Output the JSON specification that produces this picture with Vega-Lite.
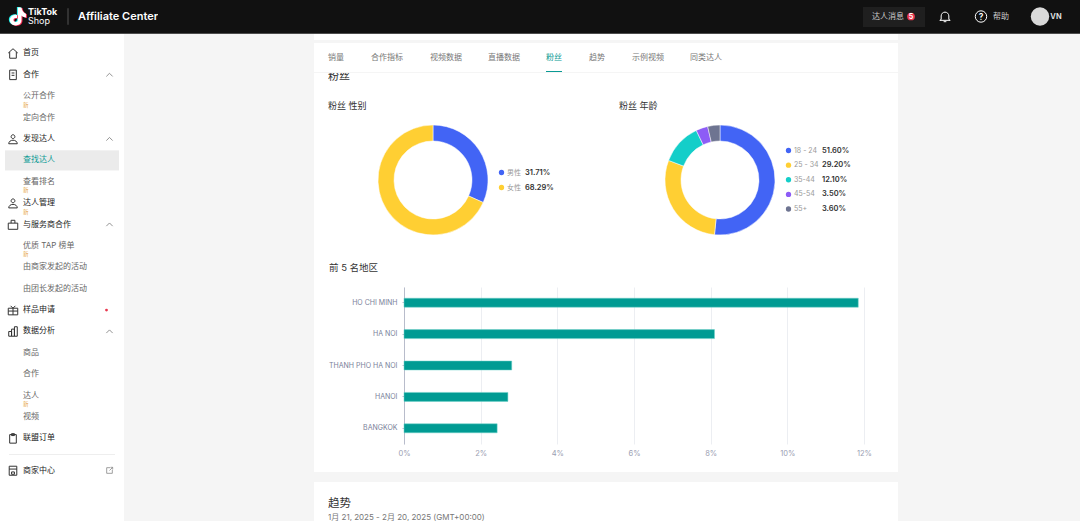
{"$schema":"https://vega.github.io/schema/vega-lite/v6.json","padding":0,"background":"#ffffff","spacing":0,"resolve":{"scale":{"color":"independent","shape":"independent"}},"config":{"view":{"stroke":null},"concat":{"spacing":0},"font":"Inter, 'Noto Sans CJK SC'","text":{"font":"Inter, 'Noto Sans CJK SC'"}},
"datasets":{
"menu":[
{"row":1,"label":"首页","kind":"top","icon":"home"},
{"row":2,"label":"合作","kind":"top","icon":"doc","trail":"chevron"},
{"row":3,"label":"公开合作","kind":"sub","isNew":true},
{"row":4,"label":"定向合作","kind":"sub"},
{"row":5,"label":"发现达人","kind":"top","icon":"person","trail":"chevron"},
{"row":6,"label":"查找达人","kind":"active"},
{"row":7,"label":"查看排名","kind":"sub","isNew":true},
{"row":8,"label":"达人管理","kind":"top","icon":"person","isNew":true},
{"row":9,"label":"与服务商合作","kind":"top","icon":"case","trail":"chevron"},
{"row":10,"label":"优质 TAP 榜单","kind":"sub","isNew":true},
{"row":11,"label":"由商家发起的活动","kind":"sub"},
{"row":12,"label":"由团长发起的活动","kind":"sub"},
{"row":13,"label":"样品申请","kind":"top","icon":"gift","trail":"dot"},
{"row":14,"label":"数据分析","kind":"top","icon":"chart","trail":"chevron"},
{"row":15,"label":"商品","kind":"sub"},
{"row":16,"label":"合作","kind":"sub"},
{"row":17,"label":"达人","kind":"sub","isNew":true},
{"row":18,"label":"视频","kind":"sub"},
{"row":19,"label":"联盟订单","kind":"top","icon":"clip"}
],
"gender":[{"group":"男性","share":0.3171,"rank":1},{"group":"女性","share":0.6829,"rank":2}],
"age":[{"group":"18 - 24","share":0.516,"rank":1},{"group":"25 - 34","share":0.292,"rank":2},{"group":"35-44","share":0.121,"rank":3},{"group":"45-54","share":0.035,"rank":4},{"group":"55+","share":0.036,"rank":5}],
"regions":[{"region":"HO CHI MINH","share":11.85},{"region":"HA NOI","share":8.1},{"region":"THANH PHO HA NOI","share":2.81},{"region":"HANOI","share":2.71},{"region":"BANGKOK","share":2.43}]
},
"vconcat":[
{"bounds":"flush","spacing":0,"hconcat":[
{"width":28,"height":33,"view":{"fill":"#111111"},"data":{"values":[{}]},"layer":[
{"mark":{"type":"point","shape":"M0.1,-1H0.5C0.55,-0.6 0.8,-0.35 1,-0.3V0.1C0.8,0.1 0.6,0 0.5,-0.1V0.4C0.5,0.85 0.15,1 -0.15,1C-0.55,1 -0.8,0.7 -0.8,0.4C-0.8,0 -0.45,-0.25 0,-0.2V0.2C-0.2,0.1 -0.4,0.2 -0.4,0.4C-0.4,0.55 -0.25,0.65 -0.1,0.62C0.05,0.6 0.1,0.5 0.1,0.4Z","filled":true,"size":320,"color":"#25f4ee","opacity":1},"encoding":{"x":{"datum":-1,"type":"quantitative","scale":{"domain":[-17,11]},"axis":null},"y":{"datum":0.5,"type":"quantitative","scale":{"domain":[-16.5,16.5]},"axis":null}}},
{"mark":{"type":"point","shape":"M0.1,-1H0.5C0.55,-0.6 0.8,-0.35 1,-0.3V0.1C0.8,0.1 0.6,0 0.5,-0.1V0.4C0.5,0.85 0.15,1 -0.15,1C-0.55,1 -0.8,0.7 -0.8,0.4C-0.8,0 -0.45,-0.25 0,-0.2V0.2C-0.2,0.1 -0.4,0.2 -0.4,0.4C-0.4,0.55 -0.25,0.65 -0.1,0.62C0.05,0.6 0.1,0.5 0.1,0.4Z","filled":true,"size":320,"color":"#fe2c55","opacity":1},"encoding":{"x":{"datum":1,"type":"quantitative","scale":{"domain":[-17,11]},"axis":null},"y":{"datum":-0.5,"type":"quantitative","scale":{"domain":[-16.5,16.5]},"axis":null}}},
{"mark":{"type":"point","shape":"M0.1,-1H0.5C0.55,-0.6 0.8,-0.35 1,-0.3V0.1C0.8,0.1 0.6,0 0.5,-0.1V0.4C0.5,0.85 0.15,1 -0.15,1C-0.55,1 -0.8,0.7 -0.8,0.4C-0.8,0 -0.45,-0.25 0,-0.2V0.2C-0.2,0.1 -0.4,0.2 -0.4,0.4C-0.4,0.55 -0.25,0.65 -0.1,0.62C0.05,0.6 0.1,0.5 0.1,0.4Z","filled":true,"size":320,"color":"#ffffff","opacity":1},"encoding":{"x":{"datum":0,"type":"quantitative","scale":{"domain":[-17,11]},"axis":null},"y":{"datum":0,"type":"quantitative","scale":{"domain":[-16.5,16.5]},"axis":null}}}
]},
{"width":30,"height":33,"view":{"fill":"#111111"},"data":{"values":[{}]},"encoding":{"x":{"datum":0,"type":"quantitative","scale":{"domain":[0,1]},"axis":null}},"layer":[
{"mark":{"type":"text","text":"TikTok","align":"left","color":"#ffffff","fontSize":9,"fontWeight":700,"dy":-4.5}},
{"mark":{"type":"text","text":"Shop","align":"left","color":"#ffffff","fontSize":9,"dy":4.5}}
]},
{"width":20,"height":33,"view":{"fill":"#111111"},"data":{"values":[{}]},"mark":{"type":"rule","color":"#555555"},"encoding":{"y":{"datum":0,"type":"quantitative","scale":{"domain":[-0.5,1.5]},"axis":null},"y2":{"datum":1}}},
{"width":80,"height":33,"view":{"fill":"#111111"},"data":{"values":[{"label":"Affiliate Center"}]},"mark":{"type":"text","align":"left","color":"#ffffff","fontSize":11,"fontWeight":600},"encoding":{"x":{"datum":0,"type":"quantitative","scale":{"domain":[0,1]},"axis":null},"text":{"field":"label"}}},
{"width":705,"height":33,"view":{"fill":"#111111"},"data":{"values":[{}]},"mark":{"type":"rect","opacity":0}},
{"width":42,"height":33,"view":{"fill":"#111111"},"data":{"values":[{"label":"达人消息"}]},"layer":[
{"mark":{"type":"rect","color":"#1f1f1f"},"encoding":{"y":{"datum":0,"type":"quantitative","scale":{"domain":[-0.3,1.35]},"axis":null},"y2":{"datum":1}}},
{"mark":{"type":"text","color":"#cccccc","fontSize":8,"dx":4},"encoding":{"text":{"field":"label"}}}
]},
{"width":12,"height":33,"view":{"fill":"#111111"},"data":{"values":[{"label":"5"}]},"layer":[
{"mark":{"type":"rect","color":"#1f1f1f"},"encoding":{"y":{"datum":0,"type":"quantitative","scale":{"domain":[-0.3,1.35]},"axis":null},"y2":{"datum":1}}},
{"mark":{"type":"point","shape":"circle","filled":true,"size":60,"color":"#e8384f","opacity":1}},
{"mark":{"type":"text","color":"#ffffff","fontSize":7,"fontWeight":700},"encoding":{"text":{"field":"label"}}}
]},
{"width":8,"height":33,"view":{"fill":"#111111"},"data":{"values":[{}]},"mark":{"type":"rect","color":"#1f1f1f"},"encoding":{"y":{"datum":0,"type":"quantitative","scale":{"domain":[-0.3,1.35]},"axis":null},"y2":{"datum":1}}},
{"width":10,"height":33,"view":{"fill":"#111111"},"data":{"values":[{}]},"mark":{"type":"rect","opacity":0}},
{"width":20,"height":33,"view":{"fill":"#111111"},"data":{"values":[{}]},"mark":{"type":"point","shape":"M-0.7,0.55V-0.1A0.7,0.7 0 0 1 0.7,-0.1V0.55L0.95,0.7H-0.95L-0.7,0.55ZM-0.25,0.95H0.25","filled":false,"size":120,"color":"#ffffff","strokeWidth":1,"opacity":1}},
{"width":16,"height":33,"view":{"fill":"#111111"},"data":{"values":[{}]},"mark":{"type":"rect","opacity":0}},
{"width":20,"height":33,"view":{"fill":"#111111"},"data":{"values":[{"label":"?"}]},"layer":[
{"mark":{"type":"point","shape":"circle","filled":false,"size":130,"color":"#ffffff","strokeWidth":1,"opacity":1}},
{"mark":{"type":"text","color":"#ffffff","fontSize":8.5,"fontWeight":600},"encoding":{"text":{"field":"label"}}}
]},
{"width":20,"height":33,"view":{"fill":"#111111"},"data":{"values":[{"label":"帮助"}]},"mark":{"type":"text","color":"#cccccc","fontSize":8},"encoding":{"text":{"field":"label"}}},
{"width":19,"height":33,"view":{"fill":"#111111"},"data":{"values":[{}]},"mark":{"type":"rect","opacity":0}},
{"width":20,"height":33,"view":{"fill":"#111111"},"data":{"values":[{}]},"mark":{"type":"point","shape":"circle","filled":true,"size":340,"color":"#d9d9d9","opacity":1}},
{"width":12,"height":33,"view":{"fill":"#111111"},"data":{"values":[{"label":"VN"}]},"mark":{"type":"text","color":"#dddddd","fontSize":7.5,"fontWeight":700},"encoding":{"text":{"field":"label"}}},
{"width":18,"height":33,"view":{"fill":"#111111"},"data":{"values":[{}]},"mark":{"type":"rect","opacity":0}}
]},
{"width":1080,"height":1,"view":{"fill":"#4d4d4d"},"data":{"values":[{}]},"mark":{"type":"rect","opacity":0}},
{"spacing":0,"resolve":{"scale":{"color":"independent","shape":"independent"}},"hconcat":[
{"spacing":0,"vconcat":[
{"bounds":"flush","spacing":0,"hconcat":[
{"width":5,"height":420,"data":{"values":[{}]},"mark":{"type":"rect","opacity":0}},
{"width":16,"height":420,"data":{"name":"menu"},"encoding":{"y":{"field":"row","type":"ordinal","axis":null,"scale":{"type":"band","domain":[1,2,3,4,5,6,7,8,9,10,11,12,13,14,15,16,17,18,19],"paddingInner":0.06,"paddingOuter":0.35,"align":0.63}}},"layer":[
{"transform":[{"filter":"datum.kind == 'active'"}],"mark":{"type":"rect","color":"#ebebeb"}},
{"transform":[{"filter":"isValid(datum.icon)"}],"mark":{"type":"point","filled":false,"size":90,"strokeWidth":1,"color":"#333333","opacity":1},"encoding":{"shape":{"field":"icon","legend":null,"scale":{"domain":["home","doc","person","case","gift","chart","clip"],"range":["M-1,-0.1L0,-1L1,-0.1M-0.7,-0.3V1H0.7V-0.3","M-0.7,-1H0.7V1H-0.7ZM-0.3,-0.4H0.3M-0.3,0.1H0.3","M-0.4,-0.5A0.4,0.4 0 1 1 0.4,-0.5A0.4,0.4 0 1 1 -0.4,-0.5M-0.9,1C-0.9,0 0.9,0 0.9,1Z","M-1,-0.3H1V1H-1ZM-0.4,-0.3V-0.9H0.4V-0.3","M-1,-0.4H1V1H-1ZM0,-0.4V1M-1,0.2H1M-0.5,-0.9L0,-0.4L0.5,-0.9","M-0.9,1V0H-0.3V1ZM-0.3,1V-0.5H0.3V1ZM0.3,1V-1H0.9V1Z","M-0.7,-0.8H0.7V1H-0.7ZM-0.3,-1H0.3V-0.6H-0.3Z"]}}}}
]},
{"width":79,"height":420,"data":{"name":"menu"},"encoding":{"y":{"field":"row","type":"ordinal","axis":null,"scale":{"type":"band","domain":[1,2,3,4,5,6,7,8,9,10,11,12,13,14,15,16,17,18,19],"paddingInner":0.06,"paddingOuter":0.35,"align":0.63}}},"layer":[
{"transform":[{"filter":"datum.kind == 'active'"}],"mark":{"type":"rect","color":"#ebebeb"}},
{"mark":{"type":"text","align":"left","fontSize":8,"dx":2},"encoding":{"x":{"datum":0,"type":"quantitative","scale":{"domain":[0,1]},"axis":null},"text":{"field":"label"},"color":{"field":"kind","legend":null,"scale":{"domain":["top","sub","active"],"range":["#222222","#666666","#0a9a94"]}}}},
{"transform":[{"filter":"datum.isNew"}],"mark":{"type":"text","text":"新","align":"left","fontSize":5.5,"dx":2,"dy":8.5,"color":"#e5a23a"},"encoding":{"x":{"datum":0,"type":"quantitative","scale":{"domain":[0,1]},"axis":null}}}
]},
{"width":19,"height":420,"data":{"name":"menu"},"encoding":{"y":{"field":"row","type":"ordinal","axis":null,"scale":{"type":"band","domain":[1,2,3,4,5,6,7,8,9,10,11,12,13,14,15,16,17,18,19],"paddingInner":0.06,"paddingOuter":0.35,"align":0.63}}},"layer":[
{"transform":[{"filter":"datum.kind == 'active'"}],"mark":{"type":"rect","color":"#ebebeb"}},
{"transform":[{"filter":"datum.trail == 'chevron'"}],"mark":{"type":"point","shape":"M-1,0.5L0,-0.5L1,0.5","filled":false,"size":40,"strokeWidth":0.8,"color":"#777777","opacity":1}},
{"transform":[{"filter":"datum.trail == 'dot'"}],"mark":{"type":"point","shape":"circle","filled":true,"size":8,"color":"#e8384f","opacity":1,"xOffset":-3}}
]},
{"width":5,"height":420,"data":{"values":[{}]},"mark":{"type":"rect","opacity":0}}
]},
{"bounds":"flush","spacing":0,"hconcat":[
{"width":9,"height":1,"data":{"values":[{}]},"mark":{"type":"rect","opacity":0}},
{"width":106,"height":1,"view":{"fill":"#eeeeee"},"data":{"values":[{}]},"mark":{"type":"rect","opacity":0}},
{"width":9,"height":1,"data":{"values":[{}]},"mark":{"type":"rect","opacity":0}}
]},
{"bounds":"flush","spacing":0,"hconcat":[
{"width":5,"height":31,"data":{"values":[{}]},"mark":{"type":"rect","opacity":0}},
{"width":16,"height":31,"data":{"values":[{}]},"mark":{"type":"point","shape":"M-0.8,-0.9H0.8V1H-0.8ZM-0.8,-0.3H0.8M-0.3,0.3H0.3V0.8H-0.3Z","filled":false,"size":90,"strokeWidth":1,"color":"#333333","opacity":1}},
{"width":79,"height":31,"data":{"values":[{"label":"商家中心"}]},"mark":{"type":"text","align":"left","fontSize":8,"dx":2,"color":"#222222"},"encoding":{"x":{"datum":0,"type":"quantitative","scale":{"domain":[0,1]},"axis":null},"text":{"field":"label"}}},
{"width":19,"height":31,"data":{"values":[{}]},"mark":{"type":"point","shape":"M0.2,-0.8H-0.8V0.8H0.8V-0.2M0,0L0.9,-0.9M0.3,-0.9H0.9V-0.3","filled":false,"size":50,"strokeWidth":0.8,"color":"#888888","opacity":1}},
{"width":5,"height":31,"data":{"values":[{}]},"mark":{"type":"rect","opacity":0}}
]},
{"width":124,"height":35,"data":{"values":[{}]},"mark":{"type":"rect","opacity":0}}
]},
{"width":190,"height":487,"view":{"fill":"#f5f5f5"},"data":{"values":[{}]},"mark":{"type":"rect","opacity":0}},
{"spacing":0,"resolve":{"scale":{"color":"independent"}},"vconcat":[
{"width":584,"height":6,"data":{"values":[{}]},"mark":{"type":"rect","opacity":0}},
{"width":584,"height":3,"view":{"fill":"#f5f5f5"},"data":{"values":[{}]},"mark":{"type":"rect","opacity":0}},
{"bounds":"flush","spacing":0,"hconcat":[
{"width":14,"height":29,"data":{"values":[{}]},"mark":{"type":"rect","opacity":0}},
{"width":43,"height":29,"data":{"values":[{"label":"销量"}]},"mark":{"type":"text","align":"left","fontSize":8,"color":"#777777"},"encoding":{"x":{"datum":0,"type":"quantitative","scale":{"domain":[0,1]},"axis":null},"text":{"field":"label"}}},
{"width":59,"height":29,"data":{"values":[{"label":"合作指标"}]},"mark":{"type":"text","align":"left","fontSize":8,"color":"#777777"},"encoding":{"x":{"datum":0,"type":"quantitative","scale":{"domain":[0,1]},"axis":null},"text":{"field":"label"}}},
{"width":58,"height":29,"data":{"values":[{"label":"视频数据"}]},"mark":{"type":"text","align":"left","fontSize":8,"color":"#777777"},"encoding":{"x":{"datum":0,"type":"quantitative","scale":{"domain":[0,1]},"axis":null},"text":{"field":"label"}}},
{"width":58,"height":29,"data":{"values":[{"label":"直播数据"}]},"mark":{"type":"text","align":"left","fontSize":8,"color":"#777777"},"encoding":{"x":{"datum":0,"type":"quantitative","scale":{"domain":[0,1]},"axis":null},"text":{"field":"label"}}},
{"width":43,"height":29,"data":{"values":[{"label":"粉丝"}]},"layer":[
{"mark":{"type":"text","align":"left","fontSize":8,"color":"#0a9a94"},"encoding":{"x":{"datum":0,"type":"quantitative","scale":{"domain":[0,43]},"axis":null},"text":{"field":"label"}}},
{"mark":{"type":"rect","color":"#0a9a94"},"encoding":{"x":{"datum":0,"type":"quantitative","scale":{"domain":[0,43]},"axis":null},"x2":{"datum":16},"y":{"datum":0,"type":"quantitative","scale":{"domain":[0,29]},"axis":null},"y2":{"datum":1}}}
]},
{"width":43,"height":29,"data":{"values":[{"label":"趋势"}]},"mark":{"type":"text","align":"left","fontSize":8,"color":"#777777"},"encoding":{"x":{"datum":0,"type":"quantitative","scale":{"domain":[0,1]},"axis":null},"text":{"field":"label"}}},
{"width":58,"height":29,"data":{"values":[{"label":"示例视频"}]},"mark":{"type":"text","align":"left","fontSize":8,"color":"#777777"},"encoding":{"x":{"datum":0,"type":"quantitative","scale":{"domain":[0,1]},"axis":null},"text":{"field":"label"}}},
{"width":58,"height":29,"data":{"values":[{"label":"同类达人"}]},"mark":{"type":"text","align":"left","fontSize":8,"color":"#777777"},"encoding":{"x":{"datum":0,"type":"quantitative","scale":{"domain":[0,1]},"axis":null},"text":{"field":"label"}}},
{"width":150,"height":29,"data":{"values":[{}]},"mark":{"type":"rect","opacity":0}}
]},
{"width":584,"height":1,"view":{"fill":"#f5f5f5"},"data":{"values":[{}]},"mark":{"type":"rect","opacity":0}},
{"bounds":"flush","spacing":0,"hconcat":[
{"width":14,"height":23,"data":{"values":[{}]},"mark":{"type":"rect","opacity":0}},
{"width":570,"height":23,"data":{"values":[{"label":"粉丝"}]},"mark":{"type":"text","align":"left","fontSize":11,"color":"#333333","dy":-7.5,"clip":true},"encoding":{"x":{"datum":0,"type":"quantitative","scale":{"domain":[0,1]},"axis":null},"text":{"field":"label"}}}
]},
{"bounds":"flush","spacing":0,"hconcat":[
{"width":14,"height":20,"data":{"values":[{}]},"mark":{"type":"rect","opacity":0}},
{"width":291,"height":20,"data":{"values":[{"label":"粉丝 性别"}]},"mark":{"type":"text","align":"left","fontSize":9,"color":"#333333"},"encoding":{"x":{"datum":0,"type":"quantitative","scale":{"domain":[0,1]},"axis":null},"text":{"field":"label"}}},
{"width":279,"height":20,"data":{"values":[{"label":"粉丝 年龄"}]},"mark":{"type":"text","align":"left","fontSize":9,"color":"#333333"},"encoding":{"x":{"datum":0,"type":"quantitative","scale":{"domain":[0,1]},"axis":null},"text":{"field":"label"}}}
]},
{"bounds":"flush","spacing":0,"resolve":{"scale":{"color":"independent"}},"hconcat":[
{"width":64,"height":128,"data":{"values":[{}]},"mark":{"type":"rect","opacity":0}},
{"width":110,"height":128,"data":{"name":"gender"},"mark":{"type":"arc","innerRadius":39,"outerRadius":55,"stroke":"#ffffff","strokeWidth":0.5},"encoding":{"theta":{"field":"share","type":"quantitative","stack":true},"order":{"field":"rank"},"color":{"field":"group","legend":null,"sort":null,"scale":{"domain":["男性","女性"],"range":["#4264f5","#ffcf33"]}}}},
{"width":8,"height":128,"data":{"values":[{}]},"mark":{"type":"rect","opacity":0}},
{"width":11,"height":128,"data":{"name":"gender"},"mark":{"type":"point","shape":"circle","filled":true,"size":28,"opacity":1},"encoding":{"y":{"field":"group","type":"nominal","sort":null,"axis":null,"scale":{"type":"point","padding":0,"range":[56.5,71.5]}},"color":{"field":"group","legend":null,"sort":null,"scale":{"domain":["男性","女性"],"range":["#4264f5","#ffcf33"]}}}},
{"width":18,"height":128,"data":{"name":"gender"},"mark":{"type":"text","align":"left","fontSize":7,"color":"#999999"},"encoding":{"x":{"datum":0,"type":"quantitative","scale":{"domain":[0,1]},"axis":null},"y":{"field":"group","type":"nominal","sort":null,"axis":null,"scale":{"type":"point","padding":0,"range":[56.5,71.5]}},"text":{"field":"group"}}},
{"width":140,"height":128,"data":{"name":"gender"},"mark":{"type":"text","align":"left","fontSize":7.5,"fontWeight":600,"color":"#333333"},"encoding":{"x":{"datum":0,"type":"quantitative","scale":{"domain":[0,1]},"axis":null},"y":{"field":"group","type":"nominal","sort":null,"axis":null,"scale":{"type":"point","padding":0,"range":[56.5,71.5]}},"text":{"field":"share","type":"quantitative","format":".2%"}}},
{"width":110,"height":128,"data":{"name":"age"},"mark":{"type":"arc","innerRadius":39,"outerRadius":55,"stroke":"#ffffff","strokeWidth":0.5},"encoding":{"theta":{"field":"share","type":"quantitative","stack":true},"order":{"field":"rank"},"color":{"field":"group","legend":null,"sort":null,"scale":{"domain":["18 - 24","25 - 34","35-44","45-54","55+"],"range":["#4264f5","#ffcf33","#14cec9","#8d5cf6","#6e7491"]}}}},
{"width":8,"height":128,"data":{"values":[{}]},"mark":{"type":"rect","opacity":0}},
{"width":11,"height":128,"data":{"name":"age"},"mark":{"type":"point","shape":"circle","filled":true,"size":28,"opacity":1},"encoding":{"y":{"field":"group","type":"nominal","sort":null,"axis":null,"scale":{"type":"point","padding":0,"range":[34.5,93]}},"color":{"field":"group","legend":null,"sort":null,"scale":{"domain":["18 - 24","25 - 34","35-44","45-54","55+"],"range":["#4264f5","#ffcf33","#14cec9","#8d5cf6","#6e7491"]}}}},
{"width":28,"height":128,"data":{"name":"age"},"mark":{"type":"text","align":"left","fontSize":7,"color":"#999999"},"encoding":{"x":{"datum":0,"type":"quantitative","scale":{"domain":[0,1]},"axis":null},"y":{"field":"group","type":"nominal","sort":null,"axis":null,"scale":{"type":"point","padding":0,"range":[34.5,93]}},"text":{"field":"group"}}},
{"width":76,"height":128,"data":{"name":"age"},"mark":{"type":"text","align":"left","fontSize":7.5,"fontWeight":600,"color":"#333333"},"encoding":{"x":{"datum":0,"type":"quantitative","scale":{"domain":[0,1]},"axis":null},"y":{"field":"group","type":"nominal","sort":null,"axis":null,"scale":{"type":"point","padding":0,"range":[34.5,93]}},"text":{"field":"share","type":"quantitative","format":".2%"}}}
]},
{"width":584,"height":14,"data":{"values":[{}]},"mark":{"type":"rect","opacity":0}},
{"bounds":"flush","spacing":0,"hconcat":[
{"width":15,"height":20,"data":{"values":[{}]},"mark":{"type":"rect","opacity":0}},
{"width":569,"height":20,"data":{"values":[{"label":"前 5 名地区"}]},"mark":{"type":"text","align":"left","fontSize":9.5,"color":"#333333"},"encoding":{"x":{"datum":0,"type":"quantitative","scale":{"domain":[0,1]},"axis":null},"text":{"field":"label"}}}
]},
{"width":584,"height":9,"data":{"values":[{}]},"mark":{"type":"rect","opacity":0}},
{"bounds":"flush","spacing":0,"hconcat":[
{"width":90,"height":157,"data":{"values":[{}]},"mark":{"type":"rect","opacity":0}},
{"width":460,"height":157,"data":{"name":"regions"},"mark":{"type":"bar","size":9,"color":"#009b93","stroke":"#6fd0c9","strokeWidth":0.5},"encoding":{"x":{"field":"share","type":"quantitative","title":null,"scale":{"domain":[0,12]},"axis":{"values":[0,2,4,6,8,10,12],"labelExpr":"datum.value + '%'","domain":false,"ticks":false,"grid":true,"gridColor":"#eceef2","labelColor":"#9a9eb2","labelFontSize":7.5,"labelPadding":5,"labelFlush":false}},"y":{"field":"region","type":"nominal","sort":null,"title":null,"axis":{"domainColor":"#b8bccb","tickColor":"#b8bccb","tickSize":2,"labelColor":"#7a7f9a","labelFontSize":7,"labelPadding":5}}}},
{"width":34,"height":157,"data":{"values":[{}]},"mark":{"type":"rect","opacity":0}}
]},
{"width":584,"height":15,"data":{"values":[{}]},"mark":{"type":"rect","opacity":0}},
{"width":584,"height":10,"view":{"fill":"#f5f5f5"},"data":{"values":[{}]},"mark":{"type":"rect","opacity":0}},
{"bounds":"flush","spacing":0,"hconcat":[
{"width":14,"height":39,"data":{"values":[{}]},"mark":{"type":"rect","opacity":0}},
{"width":570,"height":39,"data":{"values":[{"label":"趋势","kind":"title"},{"label":"1月 21, 2025 - 2月 20, 2025 (GMT+00:00)","kind":"range"}]},"layer":[
{"transform":[{"filter":"datum.kind == 'title'"}],"mark":{"type":"text","align":"left","fontSize":11.5,"color":"#333333","dy":2.5,"clip":true},"encoding":{"x":{"datum":0,"type":"quantitative","scale":{"domain":[0,1]},"axis":null},"text":{"field":"label"}}},
{"transform":[{"filter":"datum.kind == 'range'"}],"mark":{"type":"text","align":"left","fontSize":8,"color":"#777777","dy":16.5,"clip":true},"encoding":{"x":{"datum":0,"type":"quantitative","scale":{"domain":[0,1]},"axis":null},"text":{"field":"label"}}}
]}
]}
]},
{"width":182,"height":487,"view":{"fill":"#f5f5f5"},"data":{"values":[{}]},"mark":{"type":"rect","opacity":0}}
]}
]}
